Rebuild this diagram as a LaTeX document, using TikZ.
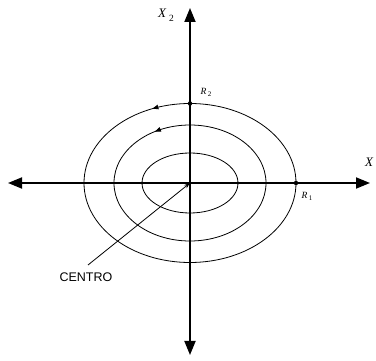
\documentclass[tikz,border=0pt]{standalone}
\usepackage{fontspec}
\setmainfont{Liberation Serif}
\setsansfont{Liberation Sans}
\usetikzlibrary{arrows.meta,decorations.markings}
\begin{document}
\begin{tikzpicture}[x=1pt,y=-1pt,
  axis/.style={line width=1.8pt,-{Triangle[length=14pt,width=11pt]}},
  orbit/.style={line width=0.8pt},
  lbl/.style={font=\itshape\fontsize{13}{13}\selectfont,inner sep=0pt},
  rlbl/.style={font=\itshape\fontsize{9.5}{9.5}\selectfont,inner sep=0pt},
  dotc/.style={circle,fill=black,inner sep=0pt,minimum size=4.5pt},
  leftarr/.style={postaction={decorate},decoration={markings,mark=at position #1 with {\arrow{Triangle[length=6pt,width=4.5pt]}}}}
]
\useasboundingbox (0,0) rectangle (376,361);
\coordinate (O) at (190,183);
\coordinate (L) at (8,183);
\coordinate (R) at (370,183);
\coordinate (T) at (190,8);
\coordinate (B) at (190,355);
\draw[axis] (O) -- (L);
\draw[axis] (O) -- (R);
\draw[axis] (O) -- (T);
\draw[axis] (O) -- (B);
% ellipses
\draw[orbit] (O) ellipse [x radius=48, y radius=30];
\draw[orbit,leftarr=0.335] (O) ++(76,0) arc[start angle=360,end angle=0,x radius=76,y radius=58];
\draw[orbit,leftarr=0.315] (O) ++(106,0) arc[start angle=360,end angle=0,x radius=106,y radius=79.5];
% points
\node[dotc] (r2) at (190,103.5) {};
\node[dotc] (r1) at (296,183) {};
\node[rlbl] (r2l) at (206,92) {R\kern1.5pt\raisebox{-2pt}{\upshape\fontsize{7}{7}\selectfont 2}};
\node[rlbl] (r1l) at (307,196) {R\kern1.5pt\raisebox{-2pt}{\upshape\fontsize{7}{7}\selectfont 1}};
\node[lbl] (xl) at (369,162) {X};
\node[lbl] (x2l) at (166,15) {X\kern3pt\raisebox{-4pt}{\upshape\fontsize{9.5}{9.5}\selectfont 2}};
% centro
\node[font=\sffamily\fontsize{12.5}{12.5}\selectfont,inner sep=0pt] (c) at (86,277) {CENTRO};
\coordinate (cs) at (88,265);
\draw[line width=0.8pt,-{Stealth[length=6pt,width=4pt]}] (cs) -- (O);
\end{tikzpicture}
\end{document}
